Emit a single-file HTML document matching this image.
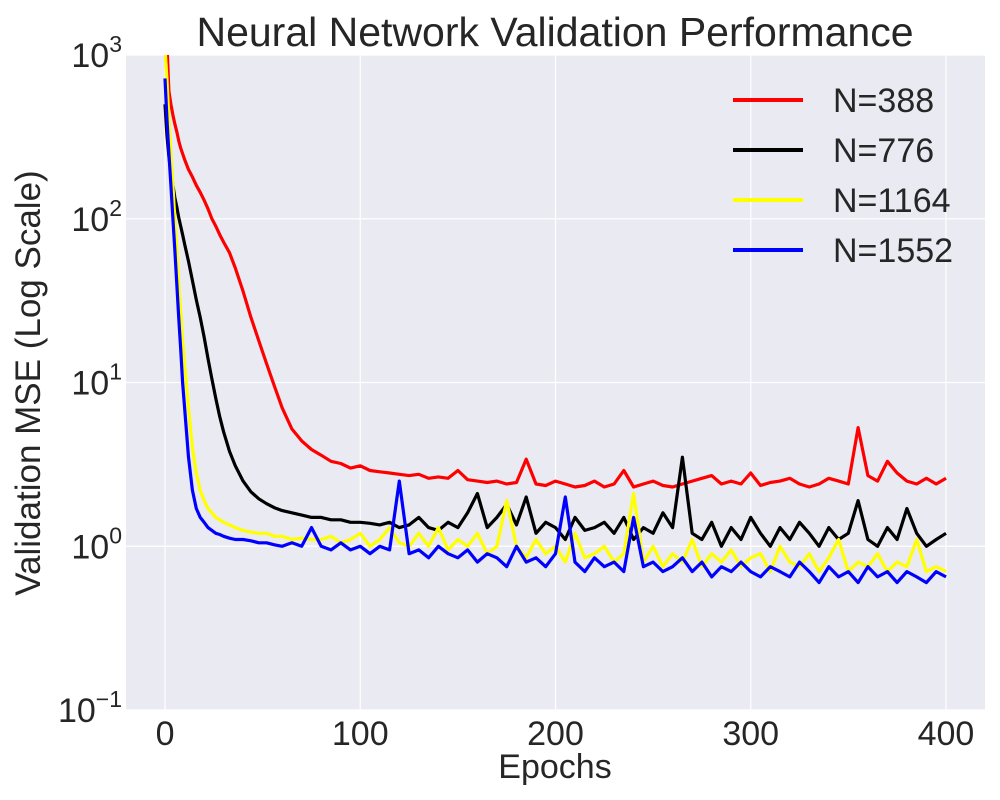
<!DOCTYPE html>
<html><head><meta charset="utf-8"><style>
body{margin:0;background:#fff;}
svg{display:block;font-family:"Liberation Sans",sans-serif;}
</style></head><body>
<svg id="chart" width="1000" height="800">
<rect x="126" y="55" width="859" height="655" fill="#eaeaf2"/>
<g id="grid"></g><g id="series"></g><g id="ticks"></g>
<text x="555" y="46" font-size="41" text-anchor="middle" fill="#262626">Neural Network Validation Performance</text>
<text x="555" y="778" font-size="34" text-anchor="middle" fill="#262626">Epochs</text>
<text transform="translate(40,383) rotate(-90)" font-size="35" text-anchor="middle" fill="#262626">Validation MSE (Log Scale)</text>
<g id="legend"></g>
</svg>
<script>
const epochs=[0,1,2,3,4,5,6,7,8,9,10,12,14,16,18,20,22,24,26,28,30,33,36,40,44,48,52,56,60,65,70,75,80,85,90,95,100,105,110,115,120,125,130,135,140,145,150,155,160,165,170,175,180,185,190,195,200,205,210,215,220,225,230,235,240,245,250,255,260,265,270,275,280,285,290,295,300,305,310,315,320,325,330,335,340,345,350,355,360,365,370,375,380,385,390,395,400];
const seriesNames=["N=388","N=776","N=1164","N=1552"];
const seriesColors=["#ff0000","#000000","#ffff00","#0000ff"];
const red=[1100,1500,600,500,430,380,340,300,270,250,230,200,180,160,145,130,115,100,90,80,72,62,50,36,25,18,13,9.5,7,5.2,4.4,3.9,3.6,3.3,3.2,3.0,3.1,2.9,2.85,2.8,2.75,2.7,2.75,2.6,2.65,2.6,2.9,2.55,2.5,2.45,2.5,2.4,2.45,3.4,2.4,2.35,2.5,2.4,2.3,2.35,2.5,2.3,2.4,2.9,2.3,2.4,2.5,2.35,2.3,2.4,2.5,2.6,2.7,2.4,2.5,2.4,2.8,2.35,2.45,2.5,2.6,2.4,2.3,2.4,2.6,2.5,2.4,5.3,2.7,2.5,3.3,2.8,2.5,2.4,2.6,2.4,2.6];
const black=[500,320,240,190,160,135,118,102,90,80,70,55,42,32,25,19,14,10.5,8,6.2,5,3.8,3.1,2.5,2.15,1.95,1.82,1.72,1.65,1.6,1.55,1.5,1.5,1.45,1.45,1.4,1.4,1.38,1.35,1.4,1.3,1.35,1.5,1.3,1.25,1.4,1.3,1.6,2.1,1.3,1.5,1.8,1.35,2.0,1.2,1.4,1.3,1.1,1.5,1.25,1.3,1.4,1.2,1.5,1.1,1.3,1.2,1.6,1.3,3.5,1.2,1.1,1.4,1.0,1.3,1.1,1.5,1.2,1.0,1.3,1.1,1.4,1.2,1.0,1.3,1.1,1.2,1.9,1.1,1.0,1.3,1.1,1.7,1.2,1.0,1.1,1.2];
const yellow=[1100,700,400,250,160,100,65,40,27,18,13,7,4,2.8,2.2,1.9,1.7,1.6,1.5,1.45,1.4,1.35,1.3,1.25,1.22,1.2,1.2,1.15,1.15,1.1,1.12,1.1,1.1,1.15,1.05,1.1,1.2,1.0,1.1,1.3,1.05,1.0,1.2,1.0,1.3,0.95,1.1,1.0,1.2,0.9,1.0,1.9,1.0,0.85,1.1,0.9,1.0,0.8,1.2,0.85,0.9,1.0,0.8,0.9,2.1,0.8,1.0,0.75,0.9,0.8,1.1,0.75,0.9,0.8,0.95,0.75,0.85,0.9,0.7,1.0,0.8,0.75,0.9,0.7,0.85,1.1,0.7,0.8,0.75,0.9,0.7,0.8,0.75,1.1,0.7,0.75,0.7];
const blue=[720,400,250,160,100,65,40,25,16,10,7,3.5,2.2,1.7,1.5,1.4,1.3,1.25,1.2,1.18,1.15,1.12,1.1,1.1,1.08,1.05,1.05,1.02,1.0,1.05,1.0,1.3,1.0,0.95,1.05,0.95,1.0,0.9,1.0,0.95,2.5,0.9,0.95,0.85,1.0,0.9,0.85,0.95,0.8,0.9,0.85,0.75,1.0,0.8,0.85,0.75,0.9,2.0,0.8,0.7,0.85,0.75,0.8,0.7,1.5,0.75,0.8,0.7,0.75,0.85,0.7,0.8,0.65,0.75,0.7,0.8,0.7,0.65,0.75,0.7,0.65,0.8,0.7,0.6,0.75,0.65,0.7,0.6,0.75,0.65,0.7,0.6,0.7,0.65,0.6,0.7,0.65];
const xTicks=[0,100,200,300,400];
const yTickExps=[-1,0,1,2,3];
const NS="http://www.w3.org/2000/svg";
const X0=126,X1=985,Y0=55,Y1=710,xMin=-20,xMax=420,yMinE=-1,yMaxE=3;
const xs=v=>X0+(v-xMin)/(xMax-xMin)*(X1-X0);
const ys=v=>Y1-(Math.log10(v)-yMinE)/(yMaxE-yMinE)*(Y1-Y0);
function mk(t,a,p){const e=document.createElementNS(NS,t);for(const k in a)e.setAttribute(k,a[k]);p.appendChild(e);return e;}
const grid=document.getElementById('grid'),ticks=document.getElementById('ticks');
xTicks.forEach(t=>{const x=xs(t);
const l=mk('line',{x1:x,x2:x,y1:Y0,y2:Y1,stroke:'#fff','stroke-width':1.2},grid);


const tx=mk('text',{x:x,y:745,'font-size':34,'text-anchor':'middle',fill:'#262626'},ticks);tx.textContent=t;

});
yTickExps.forEach(e=>{const y=Y1-(e-yMinE)/(yMaxE-yMinE)*(Y1-Y0);
const l=mk('line',{x1:X0,x2:X1,y1:y,y2:y,stroke:'#fff','stroke-width':1.2},grid);


const tx=mk('text',{x:122,y:y+12,'font-size':34,'text-anchor':'end',fill:'#262626'},ticks);


const a=mk('tspan',{},tx);a.textContent='10';
const b=mk('tspan',{dy:-15,'font-size':23},tx);b.textContent=(e<0?'\u2212':'')+Math.abs(e);});
const sg=document.getElementById('series');
[red,black,yellow,blue].forEach((vals,i)=>{
const n=Math.min(vals.length,epochs.length);let d='';
for(let k=0;k<n;k++){let y=Math.max(ys(vals[k]),Y0-10);d+=(k?'L':'M')+xs(epochs[k]).toFixed(1)+','+y.toFixed(1);}
const p=mk('path',{d:d,fill:'none',stroke:seriesColors[i],'stroke-width':3.2,'stroke-linejoin':'round'},sg);

});
sg.setAttribute('clip-path','url(#clip)');
const defs=mk('defs',{},document.getElementById('chart'));const cp=mk('clipPath',{id:'clip'},defs);mk('rect',{x:X0,y:Y0,width:X1-X0,height:Y1-Y0},cp);
const lg=document.getElementById('legend');
seriesNames.forEach((nm,i)=>{const y=100+i*50;
const l=mk('line',{x1:733,x2:803,y1:y,y2:y,stroke:seriesColors[i],'stroke-width':4},lg);


const t=mk('text',{x:833,y:y+12,'font-size':34,fill:'#262626'},lg);t.textContent=nm;

});
</script>
</body></html>
